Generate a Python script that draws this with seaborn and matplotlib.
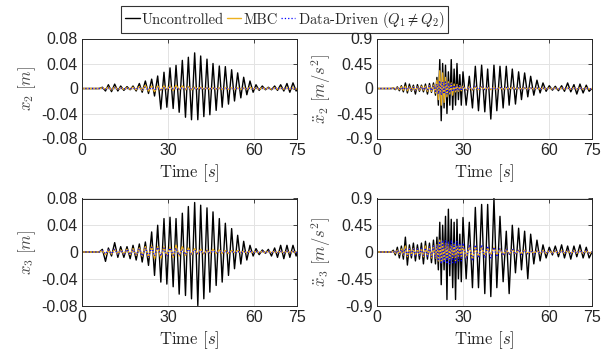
import numpy as np
import pandas as pd
import seaborn as sns
import matplotlib.pyplot as plt

# extremum instants (s)
t_disp = [0.0,
          6.0, 7.1, 8.2, 9.2, 10.3, 11.4, 12.5, 13.5, 14.6, 15.7,
          16.8, 17.8, 18.9, 20.0, 21.0, 22.1, 23.2, 24.3, 25.3, 26.4,
          27.5, 28.6, 29.6, 30.7, 31.8, 32.8, 33.9, 35.0, 36.1, 37.1,
          38.2, 39.3, 40.4, 41.4, 42.5, 43.6, 44.6, 45.7, 46.8, 47.9,
          48.9, 50.0, 51.1, 52.2, 53.2, 54.3, 55.4, 56.4, 57.5, 58.6,
          59.7, 60.7, 61.8, 62.9, 64.0, 65.0, 66.1, 67.2, 68.2, 69.3,
          70.4, 71.5, 72.5, 73.6, 74.7,
          75.0]

x2_unc = [0.0,
          0, 0.002, -0.004, 0.006, -0.005, 0.007, -0.004, 0.004, -0.003, 0.003,
          -0.002, 0.004, -0.004, 0.008, -0.006, 0.012, -0.008, 0.015, -0.012, 0.02,
          -0.033, 0.026, -0.03, 0.033, -0.032, 0.037, -0.038, 0.045, -0.046, 0.05,
          -0.05, 0.057, -0.05, 0.052, -0.045, 0.047, -0.042, 0.04, -0.035, 0.036,
          -0.03, 0.035, -0.025, 0.03, -0.02, 0.025, -0.015, 0.018, -0.01, 0.012,
          -0.006, 0.006, -0.003, 0.004, -0.002, 0.002, -0.002, 0.004, -0.003, 0.006,
          -0.004, 0.008, -0.006, 0.009, -0.004,
          0.0]
x2_mbc = [0.0,
          0, 0.001, -0.001, 0.002, -0.002, 0.002, -0.001, 0.001, -0.001, 0.001,
          -0.001, 0.002, -0.002, 0.003, -0.003, 0.005, -0.004, 0.004, -0.005, 0.004,
          -0.003, 0.004, -0.002, 0.004, -0.003, 0.005, -0.002, 0.004, -0.002, 0.003,
          -0.002, 0.002, -0.001, 0.002, -0.001, 0.001, -0.001, 0.001, -0.001, 0.001,
          -0.001, 0.001, -0.001, 0.001, -0.001, 0.001, -0.001, 0.001, -0.001, 0.002,
          -0.001, 0.001, -0.001, 0.001, -0.001, 0.001, -0.001, 0.001, -0.001, 0.001,
          -0.001, 0.001, -0.001, 0.001, -0.001,
          0.0]
x2_dd = [0.0,
         0, 0.0005, -0.001, 0.001, -0.001, 0.001, -0.0005, 0.0005, -0.0005, 0.0005,
         -0.0005, 0.001, -0.001, 0.002, -0.002, 0.002, -0.002, 0.002, -0.002, 0.001,
         -0.002, 0.001, -0.001, 0.002, -0.001, 0.001, -0.001, 0.001, -0.001, 0.001,
         -0.0005, 0.0005, -0.0005, 0.0005, -0.0005, 0.0005, -0.0005, 0.0005, -0.0005, 0.0005,
         -0.0005, 0.0005, -0.0005, 0.0005, -0.0005, 0.0005, -0.0005, 0.0005, -0.0005, 0.0005,
         -0.0005, 0.0005, -0.0005, 0.0005, -0.0005, 0.0005, -0.0005, 0.0005, -0.0005, 0.0005,
         -0.0005, 0.0005, -0.0005, 0.0005, -0.0005,
         0.0]

x3_unc = [0.0,
          0, 0.004, -0.014, 0.006, -0.006, 0.014, -0.008, 0.008, -0.008, 0.008,
          -0.01, 0.01, -0.012, 0.012, -0.015, 0.015, -0.02, 0.03, -0.035, 0.04,
          -0.045, 0.05, -0.048, 0.052, -0.052, 0.05, -0.063, 0.058, -0.065, 0.068,
          -0.07, 0.074, -0.08, 0.07, -0.07, 0.066, -0.06, 0.06, -0.05, 0.05,
          -0.045, 0.043, -0.035, 0.035, -0.025, 0.025, -0.018, 0.016, -0.012, 0.01,
          -0.006, 0.005, -0.004, 0.003, -0.002, 0.004, -0.006, 0.006, -0.008, 0.01,
          -0.01, 0.01, -0.008, 0.01, -0.006,
          0.0]
x3_mbc = [0.0,
          0, 0.002, -0.004, 0.003, -0.003, 0.004, -0.003, 0.003, -0.003, 0.004,
          -0.004, 0.005, -0.005, 0.006, -0.006, 0.008, -0.008, 0.009, -0.01, 0.008,
          -0.009, 0.008, -0.006, 0.007, -0.008, 0.01, -0.006, 0.008, -0.005, 0.006,
          -0.004, 0.005, -0.003, 0.004, -0.003, 0.003, -0.002, 0.004, -0.002, 0.003,
          -0.002, 0.002, -0.002, 0.002, -0.001, 0.002, -0.001, 0.001, -0.001, 0.001,
          -0.001, 0.001, -0.001, 0.001, -0.001, 0.001, -0.001, 0.001, -0.001, 0.001,
          -0.001, 0.001, -0.001, 0.001, -0.001,
          0.0]
x3_dd = [0.0,
         0, 0.002, -0.003, 0.003, -0.003, 0.004, -0.003, 0.003, -0.003, 0.004,
         -0.004, 0.004, -0.004, 0.005, -0.006, 0.006, -0.007, 0.007, -0.006, 0.007,
         -0.006, 0.006, -0.007, 0.006, -0.005, 0.006, -0.005, 0.004, -0.004, 0.004,
         -0.003, 0.003, -0.003, 0.002, -0.002, 0.002, -0.002, 0.002, -0.001, 0.001,
         -0.001, 0.001, -0.001, 0.001, -0.001, 0.001, -0.001, 0.001, -0.001, 0.001,
         -0.001, 0.001, -0.001, 0.001, -0.001, 0.001, -0.001, 0.001, -0.001, 0.001,
         -0.001, 0.001, -0.001, 0.001, -0.001,
         0.0]

# extremum instants (s)
t_acc = [0.0, 5.0,
         5.7, 6.4, 7.1, 7.8, 8.5, 9.2, 9.9, 10.6, 11.3, 12.0,
         12.7, 13.4, 14.1, 14.8, 15.5, 16.2, 16.9, 17.6, 18.3, 19.0,
         19.7, 20.4, 20.9, 21.4, 21.9, 22.4, 22.9, 23.4, 23.9, 24.4,
         24.9, 25.4, 25.9, 26.4, 26.9, 27.4, 27.9, 28.4, 28.9, 29.4,
         30.0, 31.1, 32.2, 33.3, 34.3, 35.4, 36.5, 37.6, 38.6, 39.7,
         40.8, 41.8, 42.9, 44.0, 45.1, 46.1, 47.2, 48.3, 49.4, 50.4,
         51.5, 52.6, 53.6, 54.7, 55.8, 56.9, 57.9, 59.0, 60.1, 61.2,
         62.2, 63.3, 64.4, 65.4, 66.5, 67.6, 68.7, 69.7, 70.8, 71.9,
         73.0, 74.0, 75.0]

a2_unc = [0, 0,
          0.01, -0.02, 0.03, -0.04, 0.05, -0.06, 0.1, -0.08, 0.08, -0.05,
          0.06, -0.1, 0.07, -0.05, 0.06, -0.06, 0.08, -0.1, 0.09, -0.07,
          0.1, -0.12, 0.2, -0.3, 0.52, -0.58, 0.45, -0.35, 0.42, -0.45,
          0.3, -0.3, 0.52, -0.38, 0.35, -0.3, 0.45, -0.2, 0.25, -0.3,
          0.3, -0.3, 0.22, -0.35, 0.4, -0.4, 0.42, -0.42, 0.35, -0.55,
          0.42, -0.4, 0.4, -0.35, 0.4, -0.3, 0.35, -0.28, 0.3, -0.2,
          0.28, -0.15, 0.22, -0.12, 0.15, -0.08, 0.1, -0.05, 0.05, -0.03,
          0.04, -0.04, 0.05, -0.05, 0.1, -0.06, 0.07, -0.1, 0.08, -0.08,
          0.06, -0.05, 0.0]
a2_mbc = [0, 0,
          0.01, -0.01, 0.02, -0.02, 0.03, -0.03, 0.04, -0.04, 0.03, -0.03,
          0.03, -0.04, 0.03, -0.03, 0.04, -0.03, 0.04, -0.05, 0.05, -0.05,
          0.06, -0.08, 0.15, -0.2, 0.32, -0.3, 0.28, -0.25, 0.2, -0.15,
          0.12, -0.1, 0.1, -0.12, 0.08, -0.06, 0.07, -0.05, 0.05, -0.04,
          0.04, -0.03, 0.03, -0.03, 0.03, -0.02, 0.03, -0.02, 0.02, -0.02,
          0.02, -0.02, 0.02, -0.02, 0.02, -0.01, 0.02, -0.01, 0.01, -0.01,
          0.01, -0.01, 0.01, -0.01, 0.01, -0.01, 0.01, -0.01, 0.01, -0.01,
          0.01, -0.01, 0.01, -0.01, 0.01, -0.01, 0.01, -0.01, 0.01, -0.01,
          0.01, -0.01, 0.0]
a2_dd = [0, 0,
         0.005, -0.01, 0.01, -0.01, 0.02, -0.02, 0.02, -0.02, 0.02, -0.02,
         0.02, -0.03, 0.03, -0.02, 0.03, -0.03, 0.03, -0.03, 0.04, -0.04,
         0.05, -0.05, 0.08, -0.1, 0.14, -0.12, 0.12, -0.1, 0.12, -0.1,
         0.1, -0.08, 0.08, -0.06, 0.06, -0.05, 0.05, -0.04, 0.04, -0.04,
         0.03, -0.03, 0.03, -0.02, 0.04, -0.02, 0.03, -0.02, 0.02, -0.02,
         0.02, -0.02, 0.02, -0.01, 0.02, -0.01, 0.01, -0.01, 0.01, -0.01,
         0.01, -0.01, 0.01, -0.01, 0.01, -0.01, 0.01, -0.01, 0.01, -0.01,
         0.01, -0.01, 0.01, -0.01, 0.01, -0.01, 0.01, -0.01, 0.01, -0.01,
         0.01, -0.01, 0.0]

a3_unc = [0, 0,
          0.03, -0.05, 0.08, -0.1, 0.1, -0.12, 0.25, -0.22, 0.12, -0.1,
          0.15, -0.15, 0.12, -0.12, 0.15, -0.2, 0.18, -0.12, 0.15, -0.18,
          0.2, -0.2, 0.25, -0.3, 0.5, -0.55, 0.45, -0.3, 0.6, -0.8,
          0.72, -0.4, 0.55, -0.6, 0.5, -0.8, 0.55, -0.45, 0.3, -0.5,
          0.58, -0.45, 0.5, -0.6, 0.75, -0.6, 0.8, -0.7, 0.8, -0.75,
          0.9, -0.6, 0.6, -0.5, 0.35, -0.7, 0.45, -0.35, 0.4, -0.3,
          0.35, -0.45, 0.3, -0.2, 0.2, -0.15, 0.12, -0.1, 0.08, -0.05,
          0.1, -0.08, 0.12, -0.1, 0.1, -0.12, 0.1, -0.08, 0.12, -0.1,
          0.08, -0.1, 0.0]
a3_mbc = [0, 0,
          0.01, -0.02, 0.03, -0.04, 0.05, -0.05, 0.1, -0.08, 0.06, -0.05,
          0.06, -0.06, 0.05, -0.05, 0.06, -0.08, 0.1, -0.06, 0.08, -0.1,
          0.1, -0.1, 0.12, -0.15, 0.2, -0.18, 0.18, -0.15, 0.15, -0.12,
          0.15, -0.12, 0.12, -0.1, 0.12, -0.15, 0.1, -0.1, 0.12, -0.1,
          0.1, -0.1, 0.1, -0.12, 0.08, -0.08, 0.08, -0.06, 0.06, -0.05,
          0.08, -0.05, 0.05, -0.05, 0.04, -0.04, 0.04, -0.03, 0.03, -0.03,
          0.03, -0.03, 0.02, -0.02, 0.02, -0.02, 0.02, -0.02, 0.02, -0.02,
          0.02, -0.02, 0.02, -0.02, 0.02, -0.02, 0.02, -0.02, 0.02, -0.02,
          0.02, -0.02, 0.0]
a3_dd = [0, 0,
         0.01, -0.02, 0.03, -0.03, 0.04, -0.04, 0.06, -0.06, 0.05, -0.05,
         0.05, -0.06, 0.05, -0.05, 0.06, -0.06, 0.07, -0.07, 0.08, -0.08,
         0.1, -0.1, 0.12, -0.15, 0.18, -0.2, 0.2, -0.18, 0.2, -0.2,
         0.18, -0.2, 0.2, -0.18, 0.15, -0.2, 0.18, -0.15, 0.15, -0.15,
         0.15, -0.12, 0.12, -0.15, 0.12, -0.1, 0.12, -0.1, 0.1, -0.1,
         0.08, -0.08, 0.06, -0.06, 0.05, -0.05, 0.05, -0.04, 0.04, -0.04,
         0.03, -0.03, 0.03, -0.03, 0.02, -0.02, 0.02, -0.02, 0.02, -0.02,
         0.02, -0.02, 0.02, -0.02, 0.02, -0.02, 0.02, -0.02, 0.02, -0.02,
         0.02, -0.02, 0.0]

series_names = ["Uncontrolled", "MBC", "Data-Driven $(Q_1 \\neq Q_2)$"]
x_ticks = [0, 30, 60, 75]
disp_ticks = [-0.08, -0.04, 0, 0.04, 0.08]
disp_labels = ["-0.08", "-0.04", "0", "0.04", "0.08"]
acc_ticks = [-0.9, -0.45, 0, 0.45, 0.9]
acc_labels = ["-0.9", "-0.45", "0", "0.45", "0.9"]

sns.set_theme(style="whitegrid")
plt.rcParams["font.family"] = ["Liberation Sans", "DejaVu Sans"]
plt.rcParams["mathtext.fontset"] = "cm"

fig = plt.figure(figsize=(6.1, 3.56), dpi=100)

panels = [
    ([82, 38.5, 215, 100], t_disp, [x2_unc, x2_mbc, x2_dd], disp_ticks, disp_labels, r"$x_2\ [m]$"),
    ([377, 38.5, 215, 100], t_acc, [a2_unc, a2_mbc, a2_dd], acc_ticks, acc_labels, r"$\ddot{x}_2\ [m/s^2]$"),
    ([82, 198.5, 215, 107], t_disp, [x3_unc, x3_mbc, x3_dd], disp_ticks, disp_labels, r"$x_3\ [m]$"),
    ([377, 198.5, 215, 107], t_acc, [a3_unc, a3_mbc, a3_dd], acc_ticks, acc_labels, r"$\ddot{x}_3\ [m/s^2]$"),
]
colors = ["black", "#EDB120", "#0000FF"]
styles = ["-", "-", ":"]
widths = [1.0, 1.0, 0.9]

W, H = 610, 356
for rect, t, ys, yt, yl, ylab in panels:
    x0, y0, w, h = rect
    ax = fig.add_axes([x0 / W, 1 - (y0 + h) / H, w / W, h / H])
    for y, c, ls, lw, name in zip(ys, colors, styles, widths, series_names):
        df = pd.DataFrame({"t": t, "v": y})
        sns.lineplot(data=df, x="t", y="v", ax=ax, color=c, linestyle=ls,
                     linewidth=lw, estimator=None, sort=False, label=name, legend=False)
    ax.set_xlim(0, 75)
    ax.set_ylim(yt[0], yt[-1])
    ax.set_xticks(x_ticks)
    ax.set_xticklabels([str(v) for v in x_ticks])
    ax.set_yticks(yt)
    ax.set_yticklabels(yl)
    ax.tick_params(direction="in", length=3, width=0.6, top=True, right=True,
                   labelsize=11.5, colors="#262626", pad=3)
    ax.grid(True, color="#e3e3e3", linewidth=0.7)
    for s in ax.spines.values():
        s.set_color("#262626")
        s.set_linewidth(0.7)
    ax.set_facecolor("white")
    ax.set_xlabel(r"Time $[s]$", fontfamily="cmr10", fontsize=12, color="#262626", labelpad=3)
    ax.set_ylabel(ylab, fontsize=12, color="#4a4a4a", labelpad=2)

handles, labels = fig.axes[0].get_legend_handles_labels()
leg = fig.legend(handles, labels, loc="center", bbox_to_anchor=(284.5 / W, 1 - 19.5 / H),
                 ncol=3, handlelength=1.0, handletextpad=0.15, columnspacing=0.2,
                 borderpad=0.25, frameon=True, fancybox=False,
                 prop={"family": "cmr10", "size": 10.5})
leg.get_frame().set_edgecolor("black")
leg.get_frame().set_linewidth(0.8)

fig.savefig("out.png", dpi=100)
